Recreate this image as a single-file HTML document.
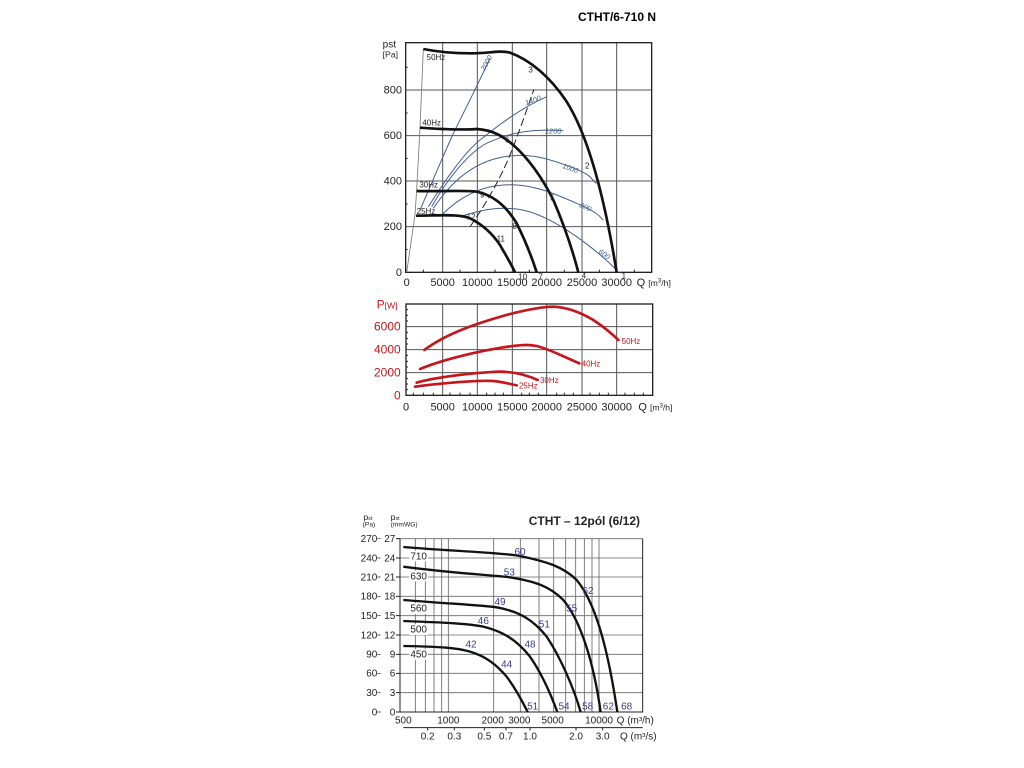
<!DOCTYPE html>
<html><head><meta charset="utf-8"><style>
html,body{margin:0;padding:0;background:#fff;}
svg{display:block;font-family:"Liberation Sans",sans-serif;}
</style></head><body>
<svg width="1024" height="768" viewBox="0 0 1024 768" xmlns="http://www.w3.org/2000/svg">
<text x="656" y="21" font-size="12" font-weight="bold" text-anchor="end">CTHT/6-710 N</text>

<g transform="translate(370,30) scale(0.33333)">
 <g stroke="#555" stroke-width="3" fill="none">
  <path d="M218 38V727M322 38V727M427 38V727M530 38V727M636 38V727M740 38V727"/>
  <path d="M107 180H845M107 317H845M107 453H845M107 590H845"/>
 </g>
 <rect x="107" y="38" width="738" height="689" fill="none" stroke="#222" stroke-width="4"/>
 <g stroke="#222" stroke-width="3">
  <path d="M107 112h6M107 249h6M107 385h6M107 522h6M107 658h6"/>
  <path d="M160 727v-8M270 727v-8M375 727v-8M478 727v-8M583 727v-8M688 727v-8M793 727v-8"/>
 </g>
 <g font-size="33" fill="#222" text-anchor="end">
  <text x="96" y="190">800</text><text x="96" y="327">600</text><text x="96" y="463">400</text><text x="96" y="600">200</text><text x="96" y="738">0</text>
 </g>
 <g font-size="33" fill="#222" text-anchor="middle">
  <text x="110" y="768">0</text><text x="218" y="768">5000</text><text x="322" y="768">10000</text><text x="427" y="768">15000</text><text x="530" y="768">20000</text><text x="636" y="768">25000</text><text x="740" y="768">30000</text>
 </g>
 <text x="800" y="768" font-size="33" fill="#222">Q <tspan font-size="26">[m<tspan dy="-10" font-size="18">3</tspan><tspan dy="10">/h]</tspan></tspan></text>
 <text x="38" y="52" font-size="30" fill="#222">pst</text>
 <text x="38" y="82" font-size="26" fill="#222">[Pa]</text>
 <path d="M110 727 L135 555 L140 480 L150 293 L160 57" stroke="#777" stroke-width="2.5" fill="none"/>
 <g stroke="#3f5f8f" stroke-width="3" fill="none">
  <path d="M150 540 C190 450 230 350 260 290 S330 150 360 85"/>
  <path d="M175 530 C220 460 280 370 330 330 S450 235 530 200"/>
  <path d="M185 530 C230 450 300 360 360 335 S480 295 580 302"/>
  <path d="M190 535 C240 460 300 405 380 385 S520 380 600 410 S660 450 680 460"/>
  <path d="M215 555 C260 510 320 470 400 465 S540 485 620 520 S690 565 700 570"/>
  <path d="M270 560 C330 540 380 530 440 537 S570 585 620 620 S710 690 740 720"/>
 </g>
 <path d="M300 590 C350 520 400 430 430 350 S470 240 492 178" stroke="#222" stroke-width="3" fill="none" stroke-dasharray="24,10"/>
 <g font-size="22" fill="#3f5f8f" font-style="italic">
  <text x="330" y="120" transform="rotate(-60 340 110)">2000</text>
  <text x="465" y="222" transform="rotate(-20 480 215)">1400</text>
  <text x="525" y="310">1200</text>
  <text x="578" y="420" transform="rotate(20 595 410)">1000</text>
  <text x="630" y="535" transform="rotate(25 640 525)">800</text>
  <text x="685" y="675" transform="rotate(35 695 670)">600</text>
 </g>
 <g stroke="#111" stroke-width="8" fill="none" stroke-linejoin="round">
  <path d="M160 57 C200 65 240 70 300 70 C360 70 390 60 420 68 C480 90 540 140 590 215 C650 310 700 480 740 727"/>
  <path d="M150 293 C220 298 280 300 320 297 C370 300 400 320 430 345 C480 390 520 450 550 510 C580 580 605 650 625 727"/>
  <path d="M140 483 C220 485 280 480 320 485 C370 495 410 530 440 580 C465 630 485 680 500 727"/>
  <path d="M138 557 C220 556 270 552 300 565 C340 585 370 615 390 645 C410 680 425 705 435 727"/>
 </g>
 <g font-size="24" fill="#222">
  <text x="475" y="128">3</text><text x="645" y="415">2</text><text x="755" y="745">1</text>
  <text x="405" y="337">6</text><text x="540" y="512">5</text><text x="635" y="745">4</text>
  <text x="330" y="502">9</text><text x="427" y="597">8</text><text x="505" y="748">7</text>
  <text x="290" y="568">12</text><text x="380" y="635">11</text><text x="445" y="748">10</text>
  <text x="170" y="90">50Hz</text><text x="157" y="287">40Hz</text><text x="148" y="472">30Hz</text><text x="140" y="552">25Hz</text>
 </g>
</g>

<g transform="translate(370,290) scale(0.33333)">
 <g stroke="#555" stroke-width="3" fill="none">
  <path d="M218 42V316M322 42V316M427 42V316M530 42V316M636 42V316M740 42V316"/>
  <path d="M108 110H848M108 179H848M108 248H848"/>
 </g>
 <rect x="108" y="42" width="740" height="274" fill="none" stroke="#222" stroke-width="4"/>
 <g stroke="#222" stroke-width="3">
  <path d="M108 59h6M108 76h6M108 93h6M108 127h6M108 145h6M108 162h6M108 196h6M108 214h6M108 231h6M108 265h6M108 282h6M108 299h6"/>
  <path d="M130 316v-8M160 316v-8M190 316v-8M240 316v-8M270 316v-8M300 316v-8M350 316v-8M375 316v-8M400 316v-8M455 316v-8M478 316v-8M505 316v-8M560 316v-8M583 316v-8M610 316v-8M660 316v-8M688 316v-8M715 316v-8M765 316v-8M793 316v-8M820 316v-8"/>
 </g>
 <g font-size="36" fill="#c4161c" text-anchor="end">
  <text x="92" y="122">6000</text><text x="92" y="191">4000</text><text x="92" y="260">2000</text><text x="92" y="328">0</text>
 </g>
 <text x="20" y="55" font-size="36" fill="#c4161c">P<tspan font-size="26">[W]</tspan></text>
 <g font-size="33" fill="#222" text-anchor="middle">
  <text x="108" y="362">0</text><text x="218" y="362">5000</text><text x="322" y="362">10000</text><text x="427" y="362">15000</text><text x="530" y="362">20000</text><text x="636" y="362">25000</text><text x="740" y="362">30000</text>
 </g>
 <text x="805" y="362" font-size="33" fill="#222">Q <tspan font-size="26">[m<tspan dy="-10" font-size="18">3</tspan><tspan dy="10">/h]</tspan></tspan></text>
 <g stroke="#c4161c" stroke-width="8" fill="none" stroke-linecap="round">
  <path d="M163 180 C230 130 320 100 420 72 C480 57 520 50 550 50 C600 52 640 72 670 90 C700 110 725 130 745 150"/>
  <path d="M150 237 C220 208 320 185 400 172 C440 166 470 162 500 168 C540 178 580 200 628 220"/>
  <path d="M140 278 C200 260 320 248 380 245 C430 244 470 255 503 270"/>
  <path d="M135 290 C200 281 320 270 370 273 C400 276 420 282 440 286"/>
 </g>
 <g font-size="24" fill="#c4161c">
  <text x="755" y="162">50Hz</text><text x="635" y="229">40Hz</text><text x="510" y="279">30Hz</text><text x="447" y="296">25Hz</text>
 </g>
</g>

<g transform="translate(360,500) scale(0.33333)">
 <g stroke="#666" stroke-width="2.5" fill="none">
  <path d="M120 578H848M120 520H848M120 463H848M120 405H848M120 347H848M120 289H848M120 231H848M120 174H848M120 116H848"/>
  <path d="M166 116V636M196 116V636M222 116V636M245 116V636M265 116V636M401 116V636M481 116V636M537 116V636M581 116V636M617 116V636M647 116V636M673 116V636M696 116V636M717 116V636"/>
 </g>
 <path d="M120 116V636H848V116" fill="none" stroke="#222" stroke-width="3"/>
 <g stroke="#222" stroke-width="3">
  <path d="M108 636h12M108 578h12M108 520h12M108 463h12M108 405h12M108 347h12M108 289h12M108 231h12M108 174h12M108 116h12"/>
  <path d="M130 683H848"/>
  <path d="M203 683v8M283 683v8M373 683v8M438 683v8M510 683v8M648 683v8M728 683v8"/>
 </g>
 <g font-size="30" fill="#222" text-anchor="end">
  <text x="52" y="646">0</text><text x="52" y="588">30</text><text x="52" y="530">60</text><text x="52" y="473">90</text><text x="52" y="415">120</text><text x="52" y="357">150</text><text x="52" y="299">180</text><text x="52" y="241">210</text><text x="52" y="184">240</text><text x="52" y="126">270</text>
  <text x="106" y="646">0</text><text x="106" y="588">3</text><text x="106" y="530">6</text><text x="106" y="473">9</text><text x="106" y="415">12</text><text x="106" y="357">15</text><text x="106" y="299">18</text><text x="106" y="241">21</text><text x="106" y="184">24</text><text x="106" y="126">27</text>
 </g>
 <g stroke="#222" stroke-width="2"><path d="M52 636h10M52 578h10M52 520h10M52 463h10M52 405h10M52 347h10M52 289h10M52 231h10M52 174h10M52 116h10"/></g>
 <g font-size="26" fill="#222">
  <text x="10" y="60">p<tspan font-size="16">st</tspan></text><text x="8" y="80" font-size="20">(Pa)</text>
  <text x="92" y="60">p<tspan font-size="16">st</tspan></text><text x="92" y="80" font-size="20">(mmWG)</text>
 </g>
 <text x="840" y="75" font-size="36" font-weight="bold" text-anchor="end" fill="#222">CTHT – 12pól (6/12)</text>
 <g font-size="30" fill="#222" text-anchor="middle">
  <text x="130" y="670">500</text><text x="265" y="670">1000</text><text x="398" y="670">2000</text><text x="478" y="670">3000</text><text x="578" y="670">5000</text><text x="717" y="670">10000</text>
  <text x="203" y="718">0.2</text><text x="283" y="718">0.3</text><text x="373" y="718">0.5</text><text x="438" y="718">0.7</text><text x="510" y="718">1.0</text><text x="648" y="718">2.0</text><text x="728" y="718">3.0</text>
 </g>
 <text x="770" y="670" font-size="30" fill="#222">Q (m³/h)</text>
 <text x="780" y="718" font-size="30" fill="#222">Q (m³/s)</text>
 <g stroke="#111" stroke-width="7" fill="none">
  <path d="M130 141 C300 155 430 158 480 168 C560 185 610 200 650 240 C700 300 740 420 772 636"/>
  <path d="M130 200 C300 222 400 225 450 232 C530 245 570 260 610 300 C660 360 700 480 722 636"/>
  <path d="M130 300 C280 312 360 315 410 322 C480 335 520 360 560 410 C600 470 640 560 662 636"/>
  <path d="M130 363 C270 368 330 372 370 380 C430 395 470 420 510 470 C545 520 575 590 592 636"/>
  <path d="M130 438 C240 440 290 443 330 455 C380 470 410 495 440 530 C470 570 490 610 503 636"/>
 </g>
 <g font-size="30" fill="#222" text-anchor="middle">
  <rect x="148" y="152" width="56" height="32" fill="#fff"/><text x="176" y="178">710</text>
  <rect x="148" y="212" width="56" height="32" fill="#fff"/><text x="176" y="238">630</text>
  <rect x="148" y="310" width="56" height="32" fill="#fff"/><text x="176" y="335">560</text>
  <rect x="148" y="373" width="56" height="32" fill="#fff"/><text x="176" y="398">500</text>
  <rect x="148" y="448" width="56" height="32" fill="#fff"/><text x="176" y="473">450</text>
 </g>
 <g font-size="30" fill="#3a3a8a" text-anchor="middle">
  <text x="480" y="165">60</text><text x="448" y="227">53</text><text x="420" y="315">49</text><text x="370" y="372">46</text><text x="333" y="443">42</text>
  <text x="684" y="282">62</text><text x="635" y="335">55</text><text x="553" y="382">51</text><text x="510" y="443">48</text><text x="440" y="502">44</text>
  <text x="518" y="628">51</text><text x="612" y="628">54</text><text x="683" y="628">58</text><text x="745" y="628">62</text><text x="800" y="628">68</text>
 </g>
</g>
</svg>
</body></html>
